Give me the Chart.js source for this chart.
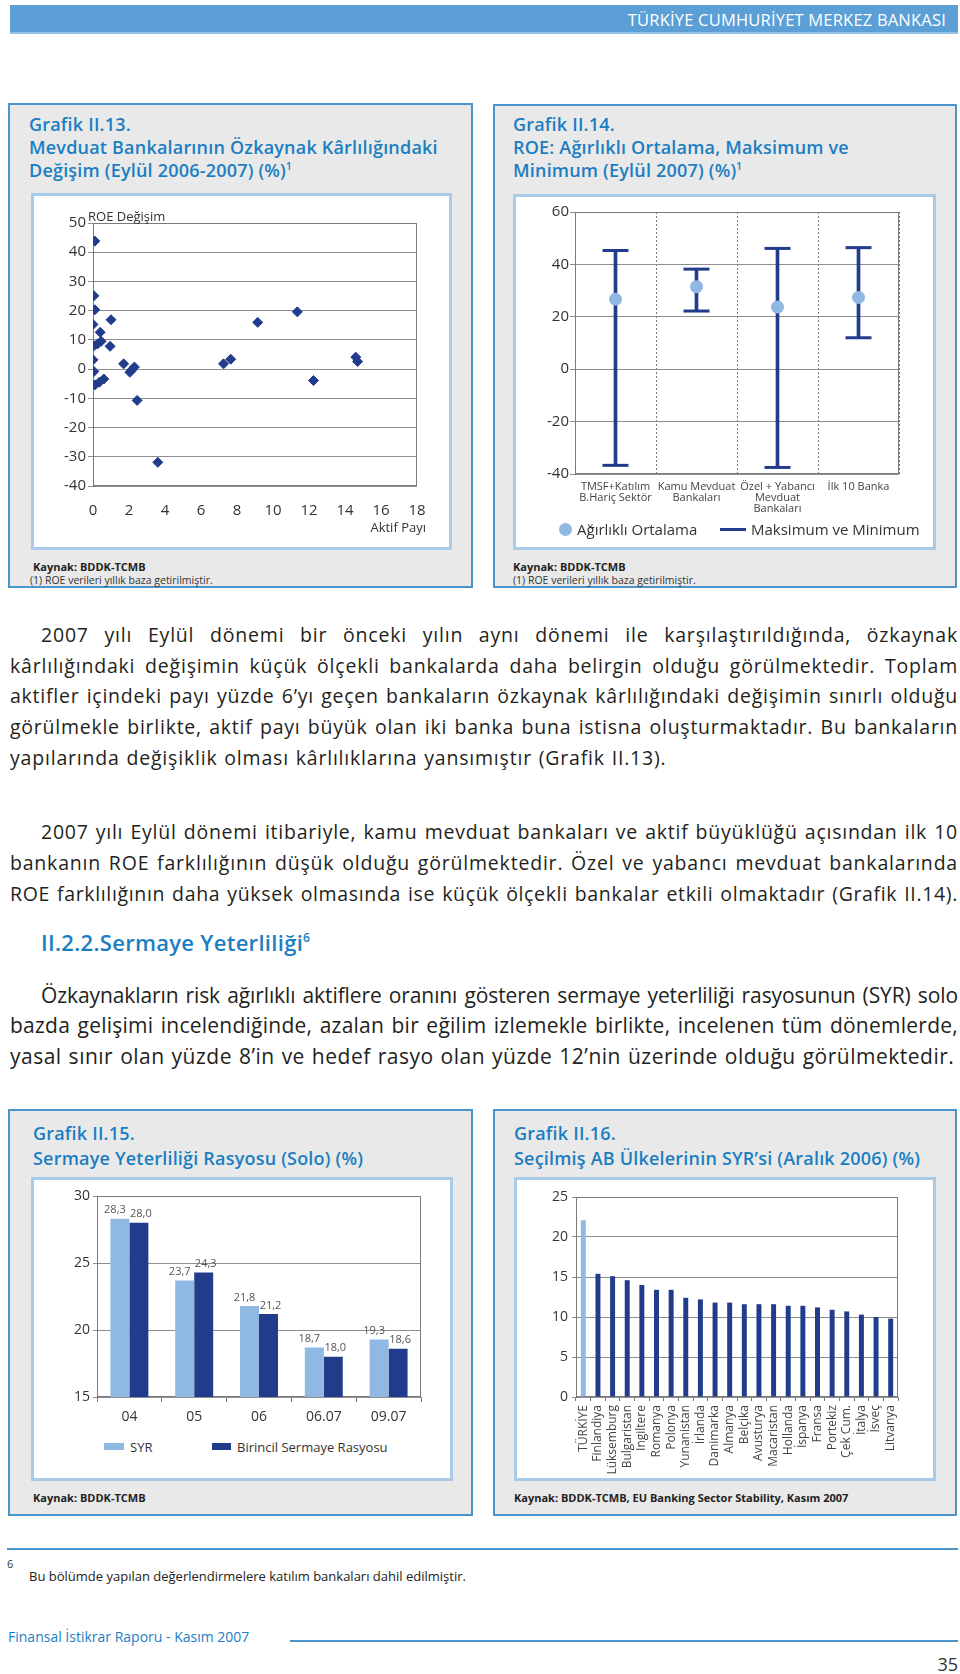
<!DOCTYPE html>
<html lang="tr">
<head>
<meta charset="utf-8">
<script src="https://cdn.jsdelivr.net/npm/chart.js@4.4.1/dist/chart.umd.min.js"></script>
<style>
  * { box-sizing: border-box; }
  body { margin: 0; width: 960px; height: 1674px; position: relative; overflow: hidden; background: #fff;
         font-family: "Open Sans", sans-serif; color: #231f20; }
  .abs { position: absolute; }
  .header { left: 10px; top: 5px; width: 948px; height: 29px; background: #5b9fd6; border-bottom: 2px solid #8fc0e8; }
  .header span { position: absolute; right: 12px; top: 3px; color: #fff; font-size: 16.5px; letter-spacing: 0.2px; }
  .box { position: absolute; background: #e9e9e9; border: 2px solid #4c95ca; }
  .panel { position: absolute; background: #fff; border: 3px solid #a9cbea; }
  .title { position: absolute; color: #1b7ec2; font-size: 18px; font-weight: 600; letter-spacing: 0.2px; line-height: 23px; white-space: nowrap; }
  .title sup { font-size: 10px; vertical-align: 7px; line-height: 0; }
  .src { position: absolute; font-size: 11px; font-weight: 700; color: #222; white-space: nowrap; }
  .note { position: absolute; font-size: 10.5px; color: #333; white-space: nowrap; }
  .lbl { position: absolute; font-size: 13px; color: #333; white-space: nowrap; }
  canvas { position: absolute; }
  .ln { position: absolute; left: 10px; width: 948px; height: 30px; line-height: 30px; font-size: 19.5px;
        letter-spacing: 0.8px; word-spacing: 1px; white-space: nowrap; overflow: hidden; }
  .j { text-align: justify; text-align-last: justify; }
  .ind { padding-left: 31px; }
  .big { font-size: 21px; letter-spacing: 0.6px; }
  .head { position: absolute; left: 41px; top: 927px; color: #1b7ec2; font-size: 22px; font-weight: 600; letter-spacing: 0.3px; }
  .head sup { font-size: 12px; vertical-align: 9px; line-height: 0; }
</style>
</head>
<body>

<div class="abs header"><span>TÜRKİYE CUMHURİYET MERKEZ BANKASI</span></div>

<!-- Grafik II.13 -->
<div class="box" style="left:8px;top:103px;width:465px;height:485px;"></div>
<div class="title" style="left:29px;top:113px;">Grafik II.13.<br>Mevduat Bankalarının Özkaynak Kârlılığındaki<br>Değişim (Eylül 2006-2007) (%)<sup>1</sup></div>
<div class="panel" style="left:31px;top:193px;width:421px;height:357px;"></div>
<canvas id="c1" width="420" height="335" style="left:31px;top:195px;"></canvas>
<div class="lbl" style="left:88px;top:207px;">ROE Değişim</div>
<div class="lbl" style="right:534px;top:518px;">Aktif Payı</div>
<div class="src" style="left:33px;top:559px;">Kaynak: BDDK-TCMB</div>
<div class="note" style="left:30px;top:573px;">(1) ROE verileri yıllık baza getirilmiştir.</div>

<!-- Grafik II.14 -->
<div class="box" style="left:493px;top:104px;width:464px;height:484px;"></div>
<div class="title" style="left:513px;top:113px;">Grafik II.14.<br>ROE: Ağırlıklı Ortalama, Maksimum ve<br>Minimum (Eylül 2007) (%)<sup>1</sup></div>
<div class="panel" style="left:513px;top:194px;width:423px;height:356px;"></div>
<canvas id="c2" width="419" height="320" style="left:515px;top:196px;"></canvas>
<div class="abs" style="left:559px;top:523px;width:13px;height:13px;border-radius:50%;background:#8fb8e3;"></div>
<div class="lbl" style="left:577px;top:519px;font-size:15px;">Ağırlıklı Ortalama</div>
<div class="abs" style="left:720px;top:528px;width:26px;height:3px;background:#223c8c;"></div>
<div class="lbl" style="left:751px;top:519px;font-size:15px;">Maksimum ve Minimum</div>
<div class="src" style="left:513px;top:559px;">Kaynak: BDDK-TCMB</div>
<div class="note" style="left:513px;top:573px;">(1) ROE verileri yıllık baza getirilmiştir.</div>

<!-- body text -->
<div class="ln j ind" style="top:620px;">2007 yılı Eylül dönemi bir önceki yılın aynı dönemi ile karşılaştırıldığında, özkaynak</div>
<div class="ln j" style="top:651px;">kârlılığındaki değişimin küçük ölçekli bankalarda daha belirgin olduğu görülmektedir. Toplam</div>
<div class="ln j" style="top:681px;">aktifler içindeki payı yüzde 6’yı geçen bankaların özkaynak kârlılığındaki değişimin sınırlı olduğu</div>
<div class="ln j" style="top:712px;">görülmekle birlikte, aktif payı büyük olan iki banka buna istisna oluşturmaktadır. Bu bankaların</div>
<div class="ln" style="top:743px;">yapılarında değişiklik olması kârlılıklarına yansımıştır (Grafik II.13).</div>

<div class="ln j ind" style="top:817px;">2007 yılı Eylül dönemi itibariyle, kamu mevduat bankaları ve aktif büyüklüğü açısından ilk 10</div>
<div class="ln j" style="top:848px;">bankanın ROE farklılığının düşük olduğu görülmektedir. Özel ve yabancı mevduat bankalarında</div>
<div class="ln j" style="top:879px;">ROE farklılığının daha yüksek olmasında ise küçük ölçekli bankalar etkili olmaktadır (Grafik II.14).</div>

<div class="head">II.2.2.Sermaye Yeterliliği<sup>6</sup></div>

<div class="ln j ind big" style="top:980px;">Özkaynakların risk ağırlıklı aktiflere oranını gösteren sermaye yeterliliği rasyosunun (SYR) solo</div>
<div class="ln j big" style="top:1010px;">bazda gelişimi incelendiğinde, azalan bir eğilim izlemekle birlikte, incelenen tüm dönemlerde,</div>
<div class="ln big" style="top:1041px;">yasal sınır olan yüzde 8’in ve hedef rasyo olan yüzde 12’nin üzerinde olduğu görülmektedir.</div>

<!-- Grafik II.15 -->
<div class="box" style="left:8px;top:1109px;width:465px;height:407px;"></div>
<div class="title" style="left:33px;top:1121px;line-height:25px;">Grafik II.15.<br>Sermaye Yeterliliği Rasyosu (Solo) (%)</div>
<div class="panel" style="left:31px;top:1177px;width:422px;height:304px;"></div>
<canvas id="c3" width="419" height="250" style="left:32px;top:1178px;"></canvas>
<div class="abs" style="left:104px;top:1443px;width:20px;height:7px;background:#8fb8e3;"></div>
<div class="lbl" style="left:130px;top:1438px;">SYR</div>
<div class="abs" style="left:212px;top:1443px;width:19px;height:7px;background:#223c8c;"></div>
<div class="lbl" style="left:237px;top:1438px;">Birincil Sermaye Rasyosu</div>
<div class="src" style="left:33px;top:1490px;">Kaynak: BDDK-TCMB</div>

<!-- Grafik II.16 -->
<div class="box" style="left:493px;top:1109px;width:464px;height:407px;"></div>
<div class="title" style="left:514px;top:1121px;line-height:25px;">Grafik II.16.<br>Seçilmiş AB Ülkelerinin SYR’si (Aralık 2006) (%)</div>
<div class="panel" style="left:514px;top:1177px;width:422px;height:304px;"></div>
<canvas id="c4" width="418" height="300" style="left:516px;top:1178px;"></canvas>
<div class="src" style="left:514px;top:1490px;">Kaynak: BDDK-TCMB, EU Banking Sector Stability, Kasım 2007</div>

<!-- footnote + footer -->
<div class="abs" style="left:7px;top:1548px;width:951px;height:2px;background:#4c95ca;"></div>
<div class="abs" style="left:7px;top:1556px;font-size:11px;color:#333;">6</div>
<div class="abs" style="left:29px;top:1567px;font-size:13px;color:#222;">Bu bölümde yapılan değerlendirmelere katılım bankaları dahil edilmiştir.</div>
<div class="abs" style="left:8px;top:1627px;font-size:14px;color:#1b7ec2;">Finansal İstikrar Raporu - Kasım 2007</div>
<div class="abs" style="left:290px;top:1640px;width:668px;height:2px;background:#4c95ca;"></div>
<div class="abs" style="right:2px;top:1652px;font-size:18px;color:#333;">35</div>

<script>
// Grafik II.13 - aktif payı / ROE değişimi
const aktifPayi = [0.1, 0.05, 0.1, 0.0, 1.0, 0.4, 0.05, 0.25, 0.45, 0.95, 0.0, 0.05, 1.7, 2.05, 2.15, 2.3,
                   0.1, 0.35, 0.6, 2.45, 3.6, 7.25, 7.65, 9.15, 11.35, 12.25, 14.6, 14.7];
const roeDegisim = [43.8, 25.1, 20.3, 15.3, 16.9, 12.6, 8.0, 8.6, 9.5, 7.8, 3.2, -0.8, 1.8, -1.1, -0.3, 0.7,
                    -5.4, -4.5, -3.4, -10.7, -31.9, 1.8, 3.4, 16.0, 19.6, -3.9, 4.1, 2.6];

// Grafik II.14 - ROE ortalama, maks, min
const gruplar = [['TMSF+Katılım', 'B.Hariç Sektör'], ['Kamu Mevduat', 'Bankaları'],
                 ['Özel + Yabancı', 'Mevduat', 'Bankaları'], ['İlk 10 Banka']];
const roeOrtalama = [26.7, 31.5, 23.7, 27.4];
const roeMaks = [45.3, 38.2, 46.1, 46.4];
const roeMin = [-36.7, 22.2, -37.5, 12.0];

// Grafik II.15 - SYR
const donemler = ['04', '05', '06', '06.07', '09.07'];
const syr = [28.3, 23.7, 21.8, 18.7, 19.3];
const birincil = [28.0, 24.3, 21.2, 18.0, 18.6];

// Grafik II.16 - AB ülkeleri SYR
const ulkeler = ['TÜRKİYE', 'Finlandiya', 'Lüksemburg', 'Bulgaristan', 'İngiltere', 'Romanya', 'Polonya',
                 'Yunanistan', 'İrlanda', 'Danimarka', 'Almanya', 'Belçika', 'Avusturya', 'Macaristan',
                 'Hollanda', 'İspanya', 'Fransa', 'Portekiz', 'Çek Cum.', 'İtalya', 'İsveç', 'Litvanya'];
const ulkeSyr = [22.1, 15.4, 15.1, 14.6, 14.0, 13.4, 13.4, 12.4, 12.2, 11.8, 11.8, 11.6, 11.6, 11.6,
                 11.4, 11.4, 11.2, 10.9, 10.7, 10.3, 10.0, 9.8];

const NAVY = '#223c8c';
const LIGHT = '#8fb8e3';
const GRID = '#8e8e8e';
const TICK = '#333';
const FONT = 'Open Sans';

// shrink letter spacing of a text line if its natural width would not fit
document.querySelectorAll('.ln').forEach((el) => {
    const full = el.clientWidth;
    const natural = () => {
        el.style.width = 'max-content';
        el.style.textAlignLast = 'left';
        const w = el.offsetWidth;
        el.style.width = '';
        el.style.textAlignLast = '';
        return w;
    };
    let ls = parseFloat(getComputedStyle(el).letterSpacing) || 0;
    while (natural() > full - 4 && ls > -1) {
        ls -= 0.05;
        el.style.letterSpacing = ls + 'px';
    }
});

// frame around the plot area
const framePlugin = {
    id: 'frame',
    beforeDatasetsDraw(chart) {
        const {ctx, chartArea: a} = chart;
        ctx.save();
        ctx.strokeStyle = '#7a7a7a';
        ctx.lineWidth = 1;
        ctx.strokeRect(Math.round(a.left) + 0.5, Math.round(a.top) + 0.5, Math.round(a.width) - 1, Math.round(a.height) - 1);
        ctx.restore();
    }
};

// value labels over the bars of Grafik II.15
const valueLabels = {
    id: 'valueLabels',
    afterDatasetsDraw(chart) {
        const ctx = chart.ctx;
        ctx.save();
        ctx.font = '11px "' + FONT + '"';
        ctx.fillStyle = '#555';
        ctx.textAlign = 'center';
        ctx.textBaseline = 'bottom';
        chart.data.datasets.forEach((ds, di) => {
            const shift = di === 0 ? -5 : 2;
            chart.getDatasetMeta(di).data.forEach((bar, i) => {
                ctx.fillText(ds.data[i].toFixed(1).replace('.', ','), bar.x + shift, bar.y - 3);
            });
        });
        ctx.restore();
    }
};

const common = {
    responsive: false,
    animation: false,
    events: [],
    plugins: {legend: {display: false}, tooltip: {enabled: false}}
};

new Chart(document.getElementById('c1'), {
    type: 'scatter',
    data: {
        datasets: [{
            data: aktifPayi.map((x, i) => ({x: x, y: roeDegisim[i]})),
            pointStyle: 'rectRot',
            pointRadius: 5,
            borderWidth: 1,
            backgroundColor: NAVY,
            borderColor: NAVY
        }]
    },
    options: {
        ...common,
        layout: {padding: {top: 28, right: 34, left: 0, bottom: 0}},
        scales: {
            x: {
                min: 0, max: 18,
                ticks: {stepSize: 2, color: TICK, font: {family: FONT, size: 15}, padding: 16},
                grid: {display: false, drawTicks: false},
                border: {display: false},
                afterFit: (s) => { s.height = 44; }
            },
            y: {
                min: -40, max: 50,
                ticks: {stepSize: 10, color: TICK, font: {family: FONT, size: 15}, padding: 2},
                grid: {color: GRID, tickLength: 5},
                border: {color: '#666'},
                afterFit: (s) => { s.width = 62; }
            }
        }
    },
    plugins: [framePlugin]
});

new Chart(document.getElementById('c2'), {
    type: 'bar',
    data: {
        labels: gruplar,
        datasets: [
            {type: 'line', data: roeOrtalama, showLine: false, pointRadius: 6.5, pointBorderWidth: 0,
             pointBackgroundColor: LIGHT, borderColor: LIGHT, order: 0},
            {type: 'line', data: roeMaks, showLine: false, pointStyle: 'line', pointRadius: 13,
             pointBorderWidth: 3, pointBorderColor: NAVY, borderColor: NAVY, order: 1},
            {type: 'line', data: roeMin, showLine: false, pointStyle: 'line', pointRadius: 13,
             pointBorderWidth: 3, pointBorderColor: NAVY, borderColor: NAVY, order: 1},
            {type: 'bar', data: roeMin.map((v, i) => [v, roeMaks[i]]), backgroundColor: NAVY,
             barThickness: 3, order: 2}
        ]
    },
    options: {
        ...common,
        layout: {padding: {top: 16, right: 35, left: 0, bottom: 0}},
        scales: {
            x: {
                offset: true,
                ticks: {color: '#444', font: {family: FONT, size: 11, lineHeight: 1.0}, padding: 7,
                        maxRotation: 0, autoSkip: false},
                grid: {offset: true, color: '#777', drawTicks: false},
                border: {display: false, dash: [2, 2]},
                afterFit: (s) => { s.height = 42; }
            },
            y: {
                min: -40, max: 60,
                ticks: {stepSize: 20, color: TICK, font: {family: FONT, size: 15}, padding: 1},
                grid: {color: GRID, tickLength: 5},
                border: {color: '#666'},
                afterFit: (s) => { s.width = 60; }
            }
        }
    },
    plugins: [framePlugin]
});

new Chart(document.getElementById('c3'), {
    type: 'bar',
    data: {
        labels: donemler,
        datasets: [
            {label: 'SYR', data: syr, backgroundColor: LIGHT},
            {label: 'Birincil Sermaye Rasyosu', data: birincil, backgroundColor: NAVY}
        ]
    },
    options: {
        ...common,
        datasets: {bar: {categoryPercentage: 0.586, barPercentage: 1.0}},
        layout: {padding: {top: 18, right: 30, left: 0, bottom: 0}},
        scales: {
            x: {
                ticks: {color: TICK, font: {family: FONT, size: 14}, padding: 7},
                grid: {offset: true, drawOnChartArea: false, color: '#777', tickLength: 5},
                border: {display: false},
                afterFit: (s) => { s.height = 31; }
            },
            y: {
                min: 15, max: 30,
                ticks: {stepSize: 5, color: TICK, font: {family: FONT, size: 14}, padding: 3},
                grid: {color: GRID, tickLength: 4},
                border: {color: '#666'},
                afterFit: (s) => { s.width = 65; }
            }
        }
    },
    plugins: [framePlugin, valueLabels]
});

new Chart(document.getElementById('c4'), {
    type: 'bar',
    data: {
        labels: ulkeler,
        datasets: [{
            data: ulkeSyr,
            backgroundColor: ulkeler.map((u, i) => i === 0 ? LIGHT : NAVY)
        }]
    },
    options: {
        ...common,
        datasets: {bar: {categoryPercentage: 1.0, barPercentage: 0.34}},
        layout: {padding: {top: 19, right: 36, left: 0, bottom: 0}},
        scales: {
            x: {
                ticks: {color: '#444', font: {family: FONT, size: 12}, padding: 4,
                        minRotation: 90, maxRotation: 90, autoSkip: false},
                grid: {offset: true, drawOnChartArea: false, color: '#777', tickLength: 4},
                border: {display: false},
                afterFit: (s) => { s.height = 81; }
            },
            y: {
                min: 0, max: 25,
                ticks: {stepSize: 5, color: TICK, font: {family: FONT, size: 14}, padding: 4},
                grid: {color: GRID, tickLength: 4},
                border: {color: '#666'},
                afterFit: (s) => { s.width = 60; }
            }
        }
    },
    plugins: [framePlugin]
});
</script>
</body>
</html>
